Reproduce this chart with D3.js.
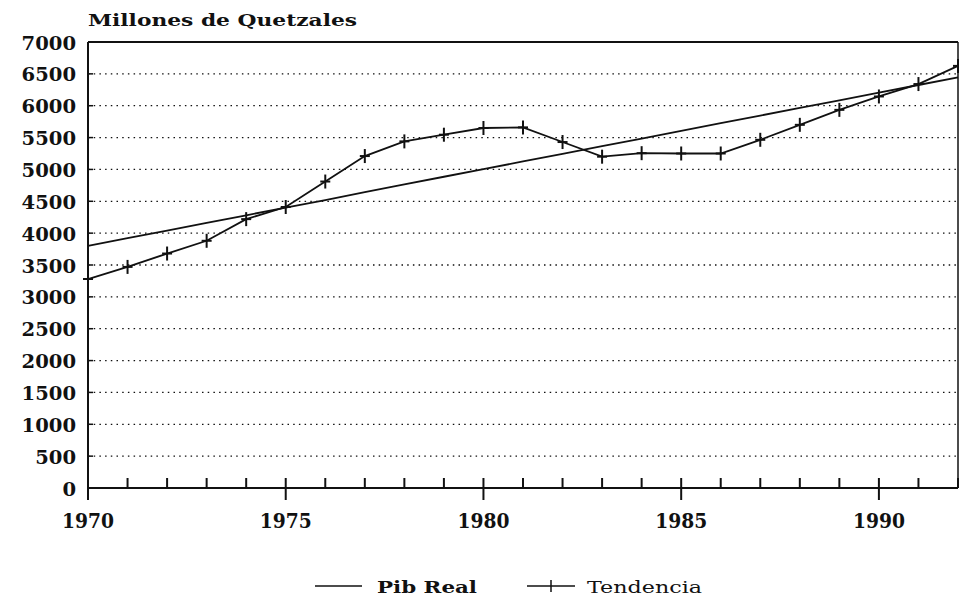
<!DOCTYPE html>
<html>
<head>
<meta charset="utf-8">
<script src="https://cdn.jsdelivr.net/npm/d3@7/dist/d3.min.js"></script>
<style>
  html, body { margin: 0; padding: 0; background: #fff; }
  svg { display: block; }
</style>
</head>
<body>
<svg id="chart" width="959" height="607"></svg>
<script>
const years = [1970,1971,1972,1973,1974,1975,1976,1977,1978,1979,1980,1981,1982,1983,1984,1985,1986,1987,1988,1989,1990,1991,1992];
const pibReal = [3800,3920,4040,4160,4280,4400,4520,4645,4765,4885,5005,5125,5245,5365,5485,5605,5725,5845,5965,6085,6205,6325,6445];
const tendencia = [3280,3470,3680,3880,4220,4410,4810,5210,5440,5545,5650,5660,5430,5200,5255,5250,5250,5465,5700,5935,6145,6340,6625];
const yTicks = [0,500,1000,1500,2000,2500,3000,3500,4000,4500,5000,5500,6000,6500,7000];
const xLabels = [1970,1975,1980,1985,1990];
const title = "Millones de Quetzales";
const legendNames = ["Pib Real", "Tendencia"];

const svg = d3.select("#chart");
const L = 88, R = 958, T = 42, B = 488;
const x = d3.scaleLinear().domain([1970, 1992]).range([L, R]);
const y = d3.scaleLinear().domain([0, 7000]).range([B, T]);
const ink = "#111";
const font = "'DejaVu Serif', serif";

// dotted gridlines
svg.append("g").selectAll("line").data(yTicks.filter(v => v > 0 && v < 7000)).join("line")
  .attr("x1", L).attr("x2", R)
  .attr("y1", d => y(d)).attr("y2", d => y(d))
  .attr("stroke", ink).attr("stroke-width", 1.3)
  .attr("stroke-dasharray", "1.5,4.2");

// small left ticks
svg.append("g").selectAll("line").data(yTicks).join("line")
  .attr("x1", L).attr("x2", L + 5)
  .attr("y1", d => y(d)).attr("y2", d => y(d))
  .attr("stroke", ink).attr("stroke-width", 1.5);

// frame
svg.append("line").attr("x1", L).attr("x2", R).attr("y1", T).attr("y2", T).attr("stroke", ink).attr("stroke-width", 2);
svg.append("line").attr("x1", L).attr("x2", R).attr("y1", B).attr("y2", B).attr("stroke", ink).attr("stroke-width", 2);
svg.append("line").attr("x1", L).attr("x2", L).attr("y1", T).attr("y2", B + 10).attr("stroke", ink).attr("stroke-width", 2);
svg.append("line").attr("x1", R).attr("x2", R).attr("y1", T).attr("y2", B).attr("stroke", ink).attr("stroke-width", 1.5);

// x ticks
svg.append("g").selectAll("line").data(years).join("line")
  .attr("x1", d => x(d)).attr("x2", d => x(d))
  .attr("y1", B - 10)
  .attr("y2", d => xLabels.includes(d) ? B + 12 : B)
  .attr("stroke", ink).attr("stroke-width", 2);

// y labels
svg.append("g").selectAll("text").data(yTicks).join("text")
  .attr("x", 76).attr("y", d => y(d) + 1)
  .attr("text-anchor", "end").attr("dominant-baseline", "central")
  .attr("font-family", font).attr("font-weight", "bold").attr("font-size", 18)
  .attr("textLength", d => String(d).length * 13.6).attr("lengthAdjust", "spacingAndGlyphs")
  .attr("fill", ink)
  .text(d => d);

// x labels
svg.append("g").selectAll("text").data(xLabels).join("text")
  .attr("x", d => x(d)).attr("y", 528)
  .attr("text-anchor", "middle")
  .attr("font-family", font).attr("font-weight", "bold").attr("font-size", 21)
  .attr("textLength", 52).attr("lengthAdjust", "spacingAndGlyphs")
  .attr("fill", ink)
  .text(d => d);

// title
svg.append("text").attr("x", 88).attr("y", 26)
  .attr("font-family", font).attr("font-weight", "bold").attr("font-size", 17)
  .attr("textLength", 269).attr("lengthAdjust", "spacingAndGlyphs")
  .attr("fill", ink).text(title);

// series
const line = d3.line().x((d, i) => x(years[i])).y(d => y(d));
svg.append("path").datum(pibReal).attr("d", line)
  .attr("fill", "none").attr("stroke", ink).attr("stroke-width", 1.8);
svg.append("path").datum(tendencia).attr("d", line)
  .attr("fill", "none").attr("stroke", ink).attr("stroke-width", 1.8);

// + markers
const mk = svg.append("g");
tendencia.forEach((v, i) => {
  const cx = x(years[i]), cy = y(v);
  mk.append("line").attr("x1", cx).attr("x2", cx).attr("y1", cy - 7).attr("y2", cy + 7).attr("stroke", ink).attr("stroke-width", 2);
  mk.append("line").attr("x1", cx - 5).attr("x2", cx + 5).attr("y1", cy).attr("y2", cy).attr("stroke", ink).attr("stroke-width", 2);
});

// legend
const lg = svg.append("g");
const ly = 586;
lg.append("line").attr("x1", 315).attr("x2", 362).attr("y1", ly).attr("y2", ly).attr("stroke", ink).attr("stroke-width", 1.5);
lg.append("text").attr("x", 377).attr("y", 593)
  .attr("font-family", font).attr("font-weight", "bold").attr("font-size", 16)
  .attr("textLength", 100).attr("lengthAdjust", "spacingAndGlyphs")
  .attr("fill", ink).text(legendNames[0]);
lg.append("line").attr("x1", 527).attr("x2", 575).attr("y1", ly).attr("y2", ly).attr("stroke", ink).attr("stroke-width", 1.5);
lg.append("line").attr("x1", 551).attr("x2", 551).attr("y1", ly - 6).attr("y2", ly + 6).attr("stroke", ink).attr("stroke-width", 1.5);
lg.append("text").attr("x", 587).attr("y", 593)
  .attr("font-family", font).attr("font-size", 16)
  .attr("textLength", 115).attr("lengthAdjust", "spacingAndGlyphs")
  .attr("fill", ink).text(legendNames[1]);
</script>
</body>
</html>
